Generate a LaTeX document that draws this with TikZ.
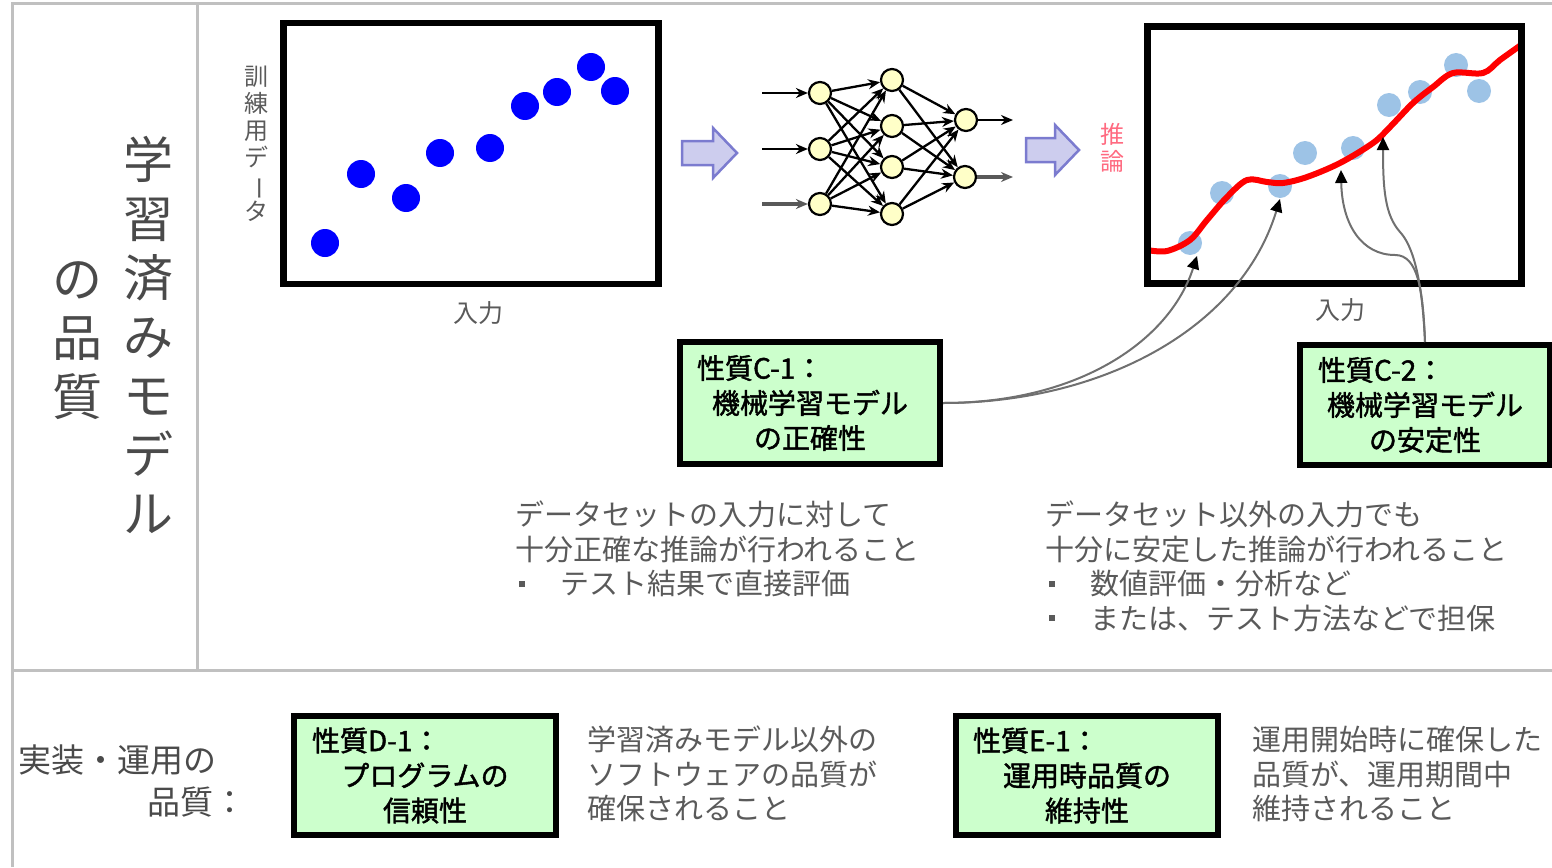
\documentclass[tikz,border=0pt]{standalone}
\usepackage{fontspec}
\setmainfont{Noto Sans CJK JP}
\newfontfamily\jpbold{Noto Sans CJK JP}[FakeBold=1.5]
\usetikzlibrary{arrows.meta}
\definecolor{framegray}{HTML}{C0C0C0}
\definecolor{txtgray}{HTML}{5A5A5A}
\definecolor{titlegray}{HTML}{4A4A4A}
\definecolor{propgreen}{HTML}{CCFFCC}
\definecolor{dotblue}{HTML}{0000FF}
\definecolor{lightdot}{HTML}{9DC3E6}
\definecolor{arrowfill}{HTML}{CDCDEE}
\definecolor{arrowline}{HTML}{7B7BCF}
\definecolor{neuronfill}{HTML}{FFFFC8}
\definecolor{pinktxt}{HTML}{FF6A80}
\definecolor{linkgray}{HTML}{707070}
\newcommand{\bulletbox}{\makebox[45pt][l]{\hspace{4pt}\rule[8pt]{6pt}{6pt}}}
\tikzset{
  frameline/.style={framegray, line width=3},
  titletxt/.style={font=\fontsize{50}{59}\selectfont, align=center, inner sep=0, text=titlegray},
  vlabel/.style={font=\fontsize{24}{27}\selectfont, align=center, inner sep=0},
  axislabel/.style={font=\fontsize{25}{25}\selectfont, inner sep=0, text=txtgray},
  chartframe/.style={draw=black, line width=6.5},
  blockarrow/.style={draw=arrowline, fill=arrowfill, line width=2.5, line join=miter},
  neuron/.style={circle, draw=black, line width=2.2, fill=neuronfill, minimum size=22, inner sep=0},
  nnedge/.style={line width=2.3, -{Stealth[length=12pt,width=10pt]}},
  prop/.style={draw=black, line width=6, fill=propgreen, align=center, inner sep=0,
    font=\jpbold\fontsize{28}{35}\selectfont},
  desc/.style={anchor=north west, inner sep=0, align=left, text=txtgray,
    font=\fontsize{29}{34.5}\selectfont},
  link/.style={draw=linkgray, line width=2, -{Triangle[length=13pt,width=12pt,color=black]}},
  sidetxt/.style={inner sep=0, font=\fontsize{33}{33}\selectfont, text=titlegray}
}
\begin{document}
\begin{tikzpicture}[x=1pt,y=-1pt]
\useasboundingbox (0,0) rectangle (1552,867);
% frame
\draw[frameline] (12,867) -- (12,4) -- (1552,4);
\draw[frameline] (197,4) -- (197,670);
\draw[frameline] (12,670) -- (1552,670);

% left titles
\node[titletxt, anchor=north] (title1) at (148,136) {学\\習\\済\\み\\モ\\デ\\ル};
\node[titletxt, anchor=north] (title2) at (77,261) {の\\品\\質};

% left chart
\draw[chartframe] (283.5,23) rectangle (658.5,284);
\foreach \p in {(325,243),(361,174),(406,198),(440,153),(490,148),(525,106),(557,92),(591,67),(615,91)}
  \fill[dotblue] \p circle (14);
\node[vlabel, anchor=north, text=txtgray] (ylab) at (256,66) {訓\\練\\用\\デ\\\rotatebox[origin=c]{-90}{ー}\\タ};
\node[axislabel] (xlab1) at (478,313) {入力};

% block arrows
\draw[blockarrow] (682,141) -- (713,141) -- (713,128) -- (737,153) -- (713,178) -- (713,165) -- (682,165) -- cycle;
\draw[blockarrow] (1026,138) -- (1055,138) -- (1055,125) -- (1079,150) -- (1055,175) -- (1055,162) -- (1026,162) -- cycle;

% neural net
\foreach \n/\x/\y in {i1/820/93, i2/820/149, i3/820/204, h1/892/80, h2/892/126, h3/892/167, h4/892/214, o1/966/120, o2/965/177}
  \node[neuron] (\n) at (\x,\y) {};
\foreach \a in {i1,i2,i3}
  \foreach \b in {h1,h2,h3,h4}
    \draw[nnedge] (\a) -- (\b);
\foreach \a in {h1,h2,h3,h4}
  \foreach \b in {o1,o2}
    \draw[nnedge] (\a) -- (\b);
\coordinate (ia) at (762,93);
\coordinate (ib) at (762,149);
\coordinate (ic) at (762,204);
\coordinate (oa) at (1013,120);
\coordinate (ob) at (1013,177);
\draw[nnedge, line width=2.6] (ia) -- (i1);
\draw[nnedge, line width=2.6] (ib) -- (i2);
\draw[nnedge, line width=4, draw=gray!70!black] (ic) -- (i3);
\draw[nnedge, line width=2.6] (o1) -- (oa);
\draw[nnedge, line width=4, draw=gray!70!black] (o2) -- (ob);

% right chart
\node[vlabel, text=pinktxt] (inf) at (1112,148) {推\\論};
\foreach \p in {(1190,243),(1222,193),(1280,186),(1305,153),(1353,148),(1389,105),(1420,92),(1456,65),(1479,91)}
  \fill[lightdot] \p circle (12);
\draw[red, line width=6, line cap=round] plot[smooth, tension=0.55] coordinates {(1147,250) (1167,251) (1190,240) (1207,220) (1227,197) (1247,180) (1267,182) (1283,183) (1307,177) (1340,163) (1373,143) (1390,127) (1413,103) (1433,87) (1453,73) (1483,73) (1500,60) (1521,45)};
\draw[chartframe, line width=7] (1147.5,26.5) rectangle (1521.5,283.5);
\node[axislabel] (xlab2) at (1340,310) {入力};

% property boxes
\node[prop, minimum width=260, minimum height=122] (c1) at (810,403) {\makebox[226pt][l]{性質C-1：}\\機械学習モデル\\の正確性};
\node[prop, minimum width=250, minimum height=120] (c2) at (1425,405) {\makebox[214pt][l]{性質C-2：}\\機械学習モデル\\の安定性};
\node[prop, minimum width=262, minimum height=119] (d1) at (425,775.5) {\makebox[226pt][l]{性質D-1：}\\プログラムの\\信頼性};
\node[prop, minimum width=262, minimum height=119] (e1) at (1087,775.5) {\makebox[228pt][l]{性質E-1：}\\運用時品質の\\維持性};

% connectors into the chart
\coordinate (t1) at (1197,256);
\coordinate (t2) at (1280,199);
\coordinate (t3) at (1341,170);
\coordinate (t4) at (1383,137);
\draw[link] (c1.east) .. controls (1080,403) and (1170,340) .. (t1);
\draw[link] (c1.east) .. controls (1100,403) and (1240,330) .. (t2);
\draw[link] (c2.north) .. controls (1423,290) and (1418,255) .. (1395,255) .. controls (1362,255) and (1342,225) .. (t3);
\draw[link] (c2.north) .. controls (1422,275) and (1412,245) .. (1400,232) .. controls (1385,215) and (1383,190) .. (t4);

% descriptions
\node[desc] (dc1) at (515,501) {データセットの入力に対して\\十分正確な推論が行われること\\\bulletbox テスト結果で直接評価};
\node[desc] (dc2) at (1045,501) {データセット以外の入力でも\\十分に安定した推論が行われること\\\bulletbox 数値評価・分析など\\\bulletbox または、テスト方法などで担保};
\node[desc] (dd1) at (587,726) {学習済みモデル以外の\\ソフトウェアの品質が\\確保されること};
\node[desc] (de1) at (1252,726) {運用開始時に確保した\\品質が、運用期間中\\維持されること};

% bottom-left label
\node[sidetxt, anchor=west] (impl1) at (18,760) {実装・運用の};
\node[sidetxt, anchor=east] (impl2) at (247,802) {品質：};
\end{tikzpicture}
\end{document}
